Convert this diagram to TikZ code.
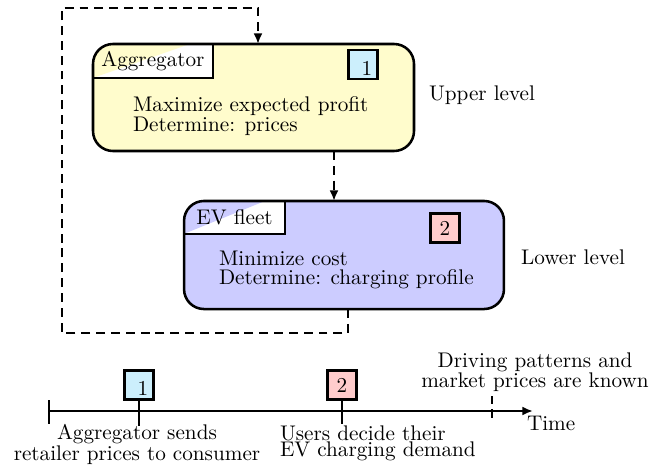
\documentclass[tikz,border=0pt]{standalone}
\usetikzlibrary{arrows.meta,calc}

% digit "1" sits low and to the right inside its square
\newcommand\stepone{\hspace*{3.6pt}\smash{\raisebox{-5.1pt}{1}}}

\begin{document}
\begin{tikzpicture}[x=0.472pt,y=-0.472pt,
  stagebox/.style={rounded corners=9.4pt, line width=1.2pt, inner sep=0pt, outer sep=0pt},
  stageline/.style={rounded corners=9.4pt, line width=1.2pt},
  titlebox/.style={draw, fill=white, line width=1.2pt, inner sep=0pt, outer sep=0pt, anchor=north west},
  numbox/.style={draw, line width=1.2pt, inner sep=0pt, minimum size=13.7pt},
  loopline/.style={line width=1.2pt, dash pattern=on 4.2pt off 2.8pt},
  tiptri/.style={-{Latex[length=5pt,width=4.2pt]}},
  axisline/.style={line width=1.2pt},
  plain/.style={inner sep=0pt, outer sep=0pt},
]
\useasboundingbox (0,0) rectangle (652,465);

% ---------- upper level: aggregator ----------
\node[stagebox, fill=yellow!20, minimum width=151.5pt, minimum height=50.5pt] (agg) at (253.5,97.5) {};
\begin{scope}
  \clip[rounded corners=9.4pt] (agg.north west) rectangle (agg.south east);
  \node[titlebox, minimum width=56.6pt, minimum height=16pt,
        path picture={\fill[yellow!20] (path picture bounding box.north west)
          -- (path picture bounding box.south west)
          -- ([xshift=-10.9pt]path picture bounding box.north east) -- cycle;}]
        (aggt) at (agg.north west) {Aggregator};
\end{scope}
\draw[stageline] (agg.north west) rectangle (agg.south east);
\node[numbox, fill=cyan!20] (aggn) at (363,64.5) {\stepone};
\node[plain, anchor=north west, align=left, font=\fontsize{10pt}{9.4pt}\selectfont]
  (aggtxt) at (133,96.6) {Maximize expected profit\\Determine: prices};
\node[plain, anchor=west] (upper) at (429,95) {Upper level};

% ---------- lower level: EV fleet ----------
\node[stagebox, fill=blue!20, minimum width=151pt, minimum height=51pt] (ev) at (344,255) {};
\begin{scope}
  \clip[rounded corners=9.4pt] (ev.north west) rectangle (ev.south east);
  \node[titlebox, minimum width=47.7pt, minimum height=15.5pt,
        path picture={\fill[blue!20] (path picture bounding box.north west)
          -- (path picture bounding box.south west)
          -- ([xshift=-9.5pt]path picture bounding box.north east) -- cycle;}]
        (evt) at (ev.north west) {EV fleet};
\end{scope}
\draw[stageline] (ev.north west) rectangle (ev.south east);
\node[numbox, fill=red!20] (evn) at (445,228) {2};
\node[plain, anchor=north west, align=left, font=\fontsize{10pt}{9.4pt}\selectfont]
  (evtxt) at (219,250.6) {Minimize cost\\Determine: charging profile};
\node[plain, anchor=west] (lower) at (521,257) {Lower level};

% ---------- dashed connectors ----------
\coordinate (midin) at ($(ev.north)+(-10,0)$);
\draw[loopline, tiptri] (midin |- agg.south) -- (midin);
\coordinate (loopbl) at (62,333);
\coordinate (looptl) at (62,8);
\draw[loopline, tiptri] ($(ev.south)+(4,0)$) |- (loopbl) -- (looptl) -| ($(agg.north)+(4.5,0)$);

% ---------- time line ----------
\coordinate (t0) at (49,411);
\coordinate (tend) at (533,411);
\coordinate (known) at (492,411);
\draw[axisline, -{Latex[length=5pt,width=4.2pt]}] (t0) -- (tend);
\draw[axisline] ($(t0)+(0,-11)$) -- ($(t0)+(0,13)$);
\draw[axisline, dash pattern=on 4pt off 2.2pt] ($(known)+(0,-15)$) -- ($(known)+(0,9)$);

\node[numbox, fill=cyan!20] (s1) at (139,385) {\stepone};
\draw[axisline] (s1.south) -- ($(s1.south)+(0,25)$);
\node[numbox, fill=red!20] (s2) at (342,385) {2};
\draw[axisline] (s2.south) -- ($(s2.south)+(0,23)$);

\node[plain, anchor=west] (time) at (527,423) {Time};
\node[plain, anchor=north, align=center, font=\fontsize{10pt}{7.5pt}\selectfont]
  (send) at (137,424.6) {Aggregator sends\\retailer prices to consumer};
\node[plain, anchor=north west, align=left, font=\fontsize{10pt}{7.5pt}\selectfont]
  (decide) at (280,425.6) {Users decide their\\EV charging demand};
\node[plain, anchor=north, align=center, font=\fontsize{10pt}{9.4pt}\selectfont]
  (knowntxt) at (535,352.6) {Driving patterns and\\market prices are known};
\end{tikzpicture}
\end{document}
